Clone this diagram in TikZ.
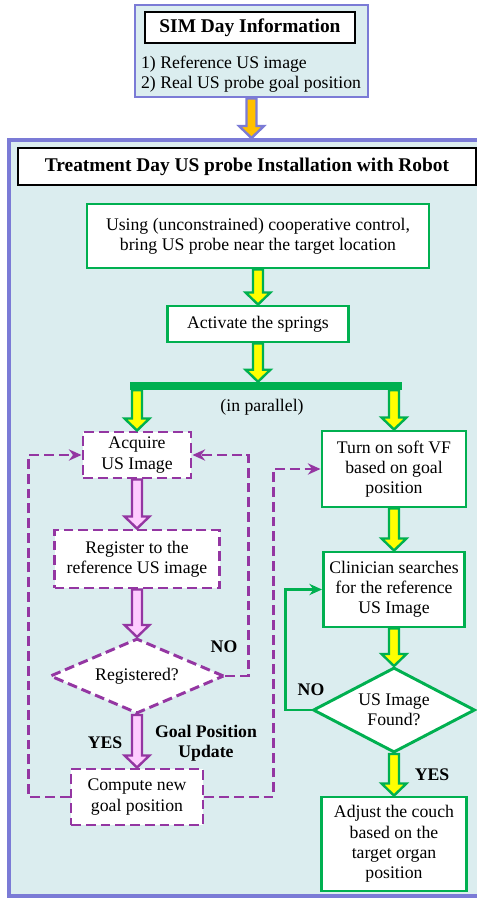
\documentclass[tikz,border=0pt]{standalone}
\usepackage{fontspec}
\setmainfont{Liberation Serif}
\usepackage{xcolor}
\usetikzlibrary{shapes,arrows.meta,positioning,calc}
\definecolor{lightbg}{RGB}{219,237,239}
\definecolor{bordblue}{RGB}{123,123,214}
\definecolor{flowgreen}{RGB}{0,176,80}
\definecolor{flowyellow}{RGB}{255,255,0}
\definecolor{loopurple}{RGB}{148,54,162}
\definecolor{pinkfill}{RGB}{255,204,255}
\definecolor{simorange}{RGB}{255,192,0}

% block arrow pointing down: #1 style, #2 start, #3 tip
\newcommand{\fatarrow}[3]{%
  \draw[#1] ($(#2)+(-0.125,0)$) -- ($(#3)+(-0.125,0.3)$) -- ($(#3)+(-0.31,0.3)$) -- (#3)
    -- ($(#3)+(0.31,0.3)$) -- ($(#3)+(0.125,0.3)$) -- ($(#2)+(0.125,0)$) -- cycle;}

\begin{document}
\begin{tikzpicture}[
    boxtext/.style={font=\fontsize{12.6}{14.4}\selectfont, align=center},
    headbox/.style={rectangle, draw=black, fill=white, line width=2pt, font=\fontsize{13.8}{16}\selectfont\bfseries},
    greenbox/.style={rectangle, draw=flowgreen, fill=white, line width=2.1pt, boxtext, inner sep=2pt},
    loopbox/.style={rectangle, draw=loopurple, fill=white, line width=2.1pt, dash pattern=on 7pt off 3.5pt, boxtext, inner sep=2pt},
    greendia/.style={diamond, aspect=1.9, draw=flowgreen, fill=white, line width=2.1pt, boxtext, inner sep=0pt},
    loopdia/.style={diamond, aspect=2.3, draw=loopurple, fill=white, line width=2.1pt, dash pattern=on 7pt off 3.5pt, boxtext, inner sep=0pt},
    greenarrow/.style={draw=flowgreen, fill=flowyellow, line width=1.7pt},
    pinkarrow/.style={draw=loopurple, fill=pinkfill, line width=1.7pt},
    orangearrow/.style={draw=bordblue, fill=simorange, line width=1.7pt},
    looparrow/.style={draw=loopurple, line width=2.1pt, dash pattern=on 7pt off 3.5pt, -{Stealth[length=9pt, width=8pt]}},
    noarrow/.style={draw=flowgreen, line width=1.7pt, -{Stealth[length=9pt, width=8pt]}},
    lbl/.style={font=\fontsize{12.6}{14.4}\selectfont\bfseries, align=center}
]
\useasboundingbox (0,0) rectangle (11.925,-22.475);

% === SIM DAY ===
\node[rectangle, draw=bordblue, fill=lightbg, line width=2pt, minimum width=5.825cm, minimum height=2.3cm] (simbox) at (6.2875,-1.275) {};
\node[headbox, minimum width=5.25cm, minimum height=0.775cm] (simtitle) at (6.25,-0.6875) {SIM Day Information};
\node[boxtext, align=left, anchor=west, inner sep=0pt] (simlist) at (3.52,-1.86) {1) Reference US image\\2) Real US probe goal position};

% === TREATMENT DAY ===
\node[rectangle, draw=bordblue, fill=lightbg, line width=2.8pt, minimum width=11.75cm, minimum height=18.9cm] (treat) at (6.1,-12.95) {};
\node[headbox, minimum width=11.45cm, minimum height=0.925cm] (treattitle) at (6.175,-4.1625) {Treatment Day US probe Installation with Robot};

\coordinate (simtip) at (simbox.south |- treat.north);
\fatarrow{orangearrow}{simbox.south}{simtip};

\node[greenbox, minimum width=8.55cm, minimum height=1.6cm] (approach) at (6.45,-5.9) {Using (unconstrained) cooperative control,\\bring US probe near the target location};
\node[greenbox, minimum width=4.525cm, minimum height=0.9cm] (springs) at (6.45,-8.1) {Activate the springs};
\node[fill=flowgreen, minimum width=6.8cm, minimum height=0.2cm, inner sep=0pt] (split) at (6.65,-9.65) {};
\node[boxtext] (parallel) at (6.55,-10.175) {(in parallel)};

% === REGISTRATION LOOP (left) ===
\node[loopbox, minimum width=2.7cm, minimum height=1.15cm] (acquire) at (3.425,-11.375) {Acquire\\US Image};
\node[loopbox, minimum width=4.125cm, minimum height=1.45cm] (register) at (3.425,-13.975) {Register to the\\reference US image};
\node[loopdia, minimum width=4.35cm, minimum height=1.875cm] (registered) at (3.425,-16.9) {Registered?};
\node[loopbox, minimum width=3.3cm, minimum height=1.4cm] (compute) at (3.425,-19.925) {Compute new\\goal position};

% === CLINICIAN SIDE (right) ===
\node[greenbox, minimum width=3.6cm, minimum height=1.9cm] (softvf) at (9.85,-11.725) {Turn on soft VF\\based on goal\\position};
\node[greenbox, minimum width=3.525cm, minimum height=1.875cm] (search) at (9.85,-14.7375) {Clinician searches\\for the reference\\US Image};
\node[greendia, minimum width=4.05cm, minimum height=2.125cm] (found) at (9.85,-17.75) {US Image\\Found?};
\node[greenbox, minimum width=3.625cm, minimum height=2.35cm] (couch) at (9.85,-21.1) {Adjust the couch\\based on the\\target organ\\position};

% === ARROWS ===
\fatarrow{greenarrow}{approach.south}{springs.north};
\coordinate (splittop) at (springs.south |- split.north);
\fatarrow{greenarrow}{springs.south}{splittop};
\coordinate (leftfork) at (acquire.north |- split.south);
\coordinate (rightfork) at (softvf.north |- split.south);
\fatarrow{greenarrow}{leftfork}{acquire.north};
\fatarrow{greenarrow}{rightfork}{softvf.north};

\fatarrow{pinkarrow}{acquire.south}{register.north};
\fatarrow{pinkarrow}{register.south}{registered.north};
\fatarrow{pinkarrow}{registered.south}{compute.north};

\fatarrow{greenarrow}{softvf.south}{search.north};
\fatarrow{greenarrow}{search.south}{found.north};
\fatarrow{greenarrow}{found.south}{couch.north};

\draw[looparrow] (registered.east) -- ++(0.575,0) |- (acquire.east);
\draw[looparrow] (compute.west) -- ++(-1.025,0) |- (acquire.west);
\draw[looparrow] (compute.east) -- ++(1.725,0) |- (softvf.west);
\draw[noarrow] (found.west) -- ++(-0.65,0) |- (search.west);

% === LABELS ===
\node[lbl] (regno) at (5.6,-16.175) {NO};
\node[lbl] (regyes) at (2.625,-18.575) {YES};
\node[lbl] (goalupd) at (5.15,-18.575) {Goal Position\\Update};
\node[lbl] (foundno) at (7.775,-17.25) {NO};
\node[lbl] (foundyes) at (10.8,-19.375) {YES};

\end{tikzpicture}
\end{document}
